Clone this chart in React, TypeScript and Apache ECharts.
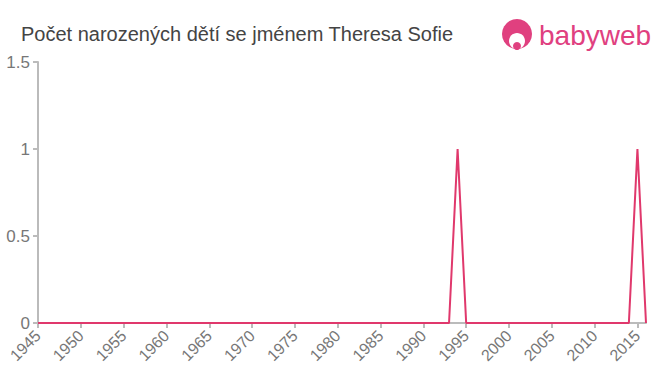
import React, { useEffect, useRef } from "react";
import * as echarts from "echarts";

const years: number[] = [];
for (let y = 1945; y <= 2016; y++) years.push(y);
const peakYears = [1994, 2015];
const counts: number[] = years.map((y) => (peakYears.includes(y) ? 1 : 0));
const titleText = "Počet narozených dětí se jménem Theresa Sofie";

export default function App() {
  const ref = useRef<HTMLDivElement>(null);
  useEffect(() => {
    document.body.style.margin = "0";
    const chart = echarts.init(ref.current!, null, { renderer: "svg" });
    chart.setOption({
      animation: false,
      title: {
        text: titleText,
        left: 16,
        top: 19,
        textStyle: { fontFamily: "Liberation Sans, Arial", fontSize: 20, fontWeight: "normal", color: "#444" },
      },
      graphic: [
        { type: "circle", shape: { cx: 517, cy: 34, r: 15 }, style: { fill: "#e0407f" } },
        { type: "ellipse", shape: { cx: 517, cy: 41, rx: 8, ry: 8 }, style: { fill: "#fff" } },
        { type: "circle", shape: { cx: 517, cy: 46, r: 4 }, style: { fill: "#e0407f" } },
        {
          type: "text",
          x: 539,
          y: 35,
          style: {
            text: "babyweb",
            fontFamily: "Liberation Sans, Arial",
            fontSize: 28,
            fill: "#e0407f",
            verticalAlign: "middle",
          },
        },
      ],
      grid: { left: 38, right: 14, top: 62, bottom: 52 },
      xAxis: {
        type: "value",
        min: 1945,
        max: 2016,
        interval: 5,
        axisLine: { lineStyle: { color: "#bbb", width: 2 } },
        axisTick: { lineStyle: { color: "#bbb", width: 2 }, length: 5 },
        splitLine: { show: false },
        axisLabel: {
          rotate: 45,
          color: "#777",
          fontSize: 16,
          fontFamily: "Liberation Sans, Arial",
          showMaxLabel: false,
          margin: 10,
          formatter: (v: number) => String(v),
        },
      },
      yAxis: {
        type: "value",
        min: 0,
        max: 1.5,
        interval: 0.5,
        axisLine: { show: true, lineStyle: { color: "#bbb", width: 2 } },
        axisTick: { show: true, lineStyle: { color: "#bbb", width: 2 }, length: 5 },
        splitLine: { show: false },
        axisLabel: { color: "#777", fontSize: 17, fontFamily: "Liberation Sans, Arial", margin: 8 },
      },
      series: [
        {
          type: "line",
          data: years.map((y, i) => [y, counts[i]]),
          showSymbol: false,
          lineStyle: { color: "#e0386c", width: 2 },
          itemStyle: { color: "#e0386c" },
        },
      ],
    });
    return () => chart.dispose();
  }, []);
  return <div ref={ref} style={{ width: 660, height: 375 }} />;
}
